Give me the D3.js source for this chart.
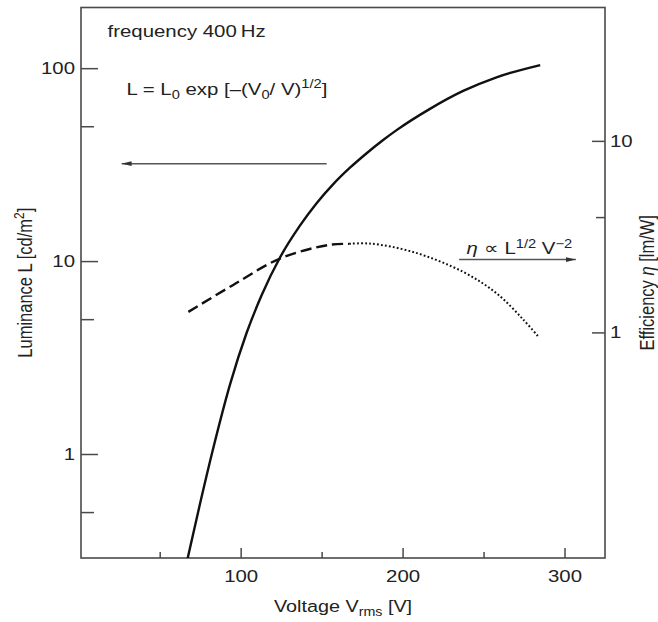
<!DOCTYPE html>
<html>
<head>
<meta charset="utf-8">
<script src="https://cdn.jsdelivr.net/npm/d3@7"></script>
<style>
  html, body { margin: 0; padding: 0; background: #fff; }
  svg { display: block; font-family: "Liberation Sans", Arial, sans-serif; }
</style>
</head>
<body>
<svg id="chart" width="658" height="622"></svg>
<script>
// luminance curve
const voltage = [67.3, 75, 83.1, 93.4, 103.7, 113, 124.3, 136.6, 146.9, 157.2, 167.5, 177.8, 188, 196.3, 216.9, 237.4, 258, 285];
const luminance = [0.289, 0.557, 1.074, 2.29, 4.25, 6.67, 10.44, 15.26, 19.95, 25.06, 30.47, 36.24, 42.42, 47.73, 61.53, 76.2, 89.7, 103.8];

// efficiency curve (dashed part then dotted part)
const effVoltage = [67.7, 95.4, 124.3, 154.1, 167, 179.8, 206.5, 237.4, 258, 274.4, 284.3];
const efficiency = [1.28, 1.77, 2.43, 2.86, 2.90, 2.91, 2.63, 2.07, 1.60, 1.17, 0.94];
const dashedUntil = 167;

const xTicksMajor = [100, 200, 300];
const xTicksMinor = [50, 150, 250];
const lumTicksMajor = [1, 10, 100];
const lumTicksMinor = [0.5, 5, 50];
const effTicksMajor = [1, 10];
const effTicksMinor = [4];

const W = 658, H = 622;
const margin = {top: 7.5, right: 53, bottom: 64, left: 81};
const stretch = 1.2;   // the reference type is drawn wide
const fs = 17;

const svg = d3.select("#chart");

const x = d3.scaleLinear().domain([1.4, 325]).range([margin.left, W - margin.right]);
const yL = d3.scaleLog().domain([0.289, 206.3]).range([H - margin.bottom, margin.top]);
const yE = d3.scaleLog().domain([0.0664, 49.7]).range([H - margin.bottom, margin.top]);

const ink = "#111";
const axisInk = "#4a4a4a";

// clip
svg.append("defs").append("clipPath").attr("id", "plot")
  .append("rect")
  .attr("x", margin.left).attr("y", margin.top)
  .attr("width", W - margin.left - margin.right)
  .attr("height", H - margin.top - margin.bottom);

const marker = svg.select("defs").append("marker")
  .attr("id", "arrow")
  .attr("viewBox", "0 0 10 6")
  .attr("refX", 10).attr("refY", 3)
  .attr("markerWidth", 10).attr("markerHeight", 6)
  .attr("markerUnits", "userSpaceOnUse")
  .attr("orient", "auto");
marker.append("path").attr("d", "M0,0.6L10,3L0,5.4Z").attr("fill", "#333");

function styleAxis(g) {
  g.select(".domain").remove();
  g.selectAll("line").attr("stroke", axisInk).attr("stroke-width", 1.5);
  g.selectAll("text").attr("font-size", fs).attr("fill", "#222")
    .attr("font-family", "Liberation Sans, Arial, sans-serif");
}

// bottom axis
const gx = svg.append("g").attr("transform", `translate(0,${H - margin.bottom})`);
gx.append("g").call(d3.axisBottom(x).tickValues(xTicksMajor).tickSizeInner(-10).tickSizeOuter(0).tickPadding(12))
  .call(styleAxis);
gx.append("g").call(d3.axisBottom(x).tickValues(xTicksMinor).tickSizeInner(-6).tickSizeOuter(0).tickFormat(""))
  .call(styleAxis);
gx.selectAll("text").attr("transform", `scale(${stretch},1)`);

// left axis
const gl = svg.append("g").attr("transform", `translate(${margin.left},0)`);
gl.append("g").call(d3.axisLeft(yL).tickValues(lumTicksMajor).tickSizeInner(-17).tickSizeOuter(0).tickFormat(d3.format("d")))
  .call(styleAxis);
gl.append("g").call(d3.axisLeft(yL).tickValues(lumTicksMinor).tickSizeInner(-13).tickSizeOuter(0).tickFormat(""))
  .call(styleAxis);
gl.selectAll("text").attr("x", -6 / stretch).attr("transform", `scale(${stretch},1)`);

// right axis
const gr = svg.append("g").attr("transform", `translate(${W - margin.right},0)`);
gr.append("g").call(d3.axisRight(yE).tickValues(effTicksMajor).tickSizeInner(-13).tickSizeOuter(0).tickFormat(d3.format("d")))
  .call(styleAxis);
gr.append("g").call(d3.axisRight(yE).tickValues(effTicksMinor).tickSizeInner(-9).tickSizeOuter(0).tickFormat(""))
  .call(styleAxis);
gr.selectAll("text").attr("x", 5 / stretch).attr("transform", `scale(${stretch},1)`);

// frame
svg.append("rect")
  .attr("x", margin.left).attr("y", margin.top)
  .attr("width", W - margin.left - margin.right)
  .attr("height", H - margin.top - margin.bottom)
  .attr("fill", "none").attr("stroke", axisInk).attr("stroke-width", 1.6);

// curves
const plot = svg.append("g").attr("clip-path", "url(#plot)");

const lumLine = d3.line()
  .x((d, i) => x(voltage[i]))
  .y((d, i) => yL(luminance[i]))
  .curve(d3.curveMonotoneX);
plot.append("path")
  .attr("d", lumLine(voltage))
  .attr("fill", "none").attr("stroke", ink).attr("stroke-width", 2.4);

const effPts = effVoltage.map((v, i) => ({v: v, e: efficiency[i]}));
const effLine = d3.line()
  .x(d => x(d.v))
  .y(d => yE(d.e))
  .curve(d3.curveCatmullRom.alpha(0.5));
plot.append("path")
  .attr("d", effLine(effPts.filter(d => d.v <= dashedUntil)))
  .attr("fill", "none").attr("stroke", ink).attr("stroke-width", 2.4)
  .attr("stroke-dasharray", "11,5");
plot.append("path")
  .attr("d", effLine(effPts.filter(d => d.v >= dashedUntil)))
  .attr("fill", "none").attr("stroke", ink).attr("stroke-width", 2)
  .attr("stroke-dasharray", "1.8,2.2");

// arrows
svg.append("line")
  .attr("x1", x(153.1)).attr("x2", x(26.5))
  .attr("y1", yL(32)).attr("y2", yL(32))
  .attr("stroke", "#555").attr("stroke-width", 1.5)
  .attr("marker-end", "url(#arrow)");
svg.append("line")
  .attr("x1", x(234.9)).attr("x2", x(307))
  .attr("y1", yE(2.4)).attr("y2", yE(2.4))
  .attr("stroke", "#555").attr("stroke-width", 1.5)
  .attr("marker-end", "url(#arrow)");

// text helpers
function richText(px, py, parts, opts) {
  opts = opts || {};
  const size = opts.size || fs;
  const g = svg.append("g")
    .attr("transform", `translate(${px},${py}) scale(${stretch},1)` + (opts.rotate ? ` rotate(${opts.rotate})` : ""));
  const t = g.append("text")
    .attr("font-size", size).attr("fill", "#222")
    .attr("text-anchor", opts.anchor || "start");
  let shift = 0;
  parts.forEach(p => {
    const target = p.s === "sup" ? -0.38 * size : p.s === "sub" ? 0.25 * size : 0;
    t.append("tspan")
      .attr("dy", target - shift)
      .attr("font-size", p.s ? size * 0.72 : size)
      .style("font-style", p.i ? "italic" : null)
      .text(p.t);
    shift = target;
  });
  return t;
}

richText(x(17.8), yL(144.7), [{t: "frequency 400\u2009Hz"}]);
richText(x(29.5), yL(72.9), [
  {t: "L = L"}, {t: "0", s: "sub"}, {t: " exp [\u2013(V"}, {t: "0", s: "sub"},
  {t: "/ V)"}, {t: "1/2", s: "sup"}, {t: "]"}
]);
richText(x(239.5), yE(2.56), [
  {t: "\u03b7", i: true}, {t: " \u221d L"}, {t: "1/2", s: "sup"}, {t: " V"}, {t: "\u22122", s: "sup"}
]);

// axis titles
richText((margin.left + W - margin.right) / 2, 612, [
  {t: "Voltage V"}, {t: "rms", s: "sub"}, {t: " [V]"}
], {anchor: "middle", size: 16.5});
richText(32, (margin.top + H - margin.bottom) / 2, [
  {t: "Luminance L [cd/m"}, {t: "2", s: "sup"}, {t: "]"}
], {anchor: "middle", rotate: -90, size: 16.5});
richText(654, (margin.top + H - margin.bottom) / 2, [
  {t: "Efficiency "}, {t: "\u03b7", i: true}, {t: " [lm/W]"}
], {anchor: "middle", rotate: -90, size: 16.5});
</script>
</body>
</html>
